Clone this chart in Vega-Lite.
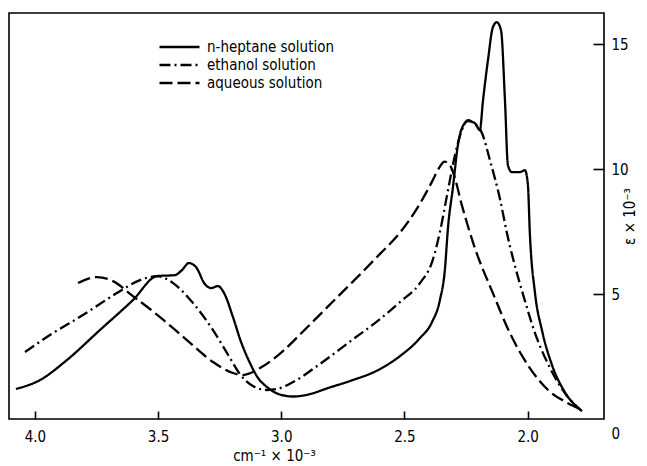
{
  "$schema": "https://vega.github.io/schema/vega-lite/v6.json",
  "autosize": "none",
  "width": 595,
  "height": 406,
  "padding": {"left": 9, "top": 13, "right": 43, "bottom": 47},
  "background": "white",
  "config": {
    "view": {"stroke": "black", "strokeWidth": 1.6},
    "font": "DejaVu Sans Condensed"
  },
  "data": {
    "values": [
      {"series": "n-heptane solution", "v": 4.077, "eps": 1.20},
      {"series": "n-heptane solution", "v": 3.979, "eps": 1.56},
      {"series": "n-heptane solution", "v": 3.870, "eps": 2.36},
      {"series": "n-heptane solution", "v": 3.736, "eps": 3.56},
      {"series": "n-heptane solution", "v": 3.602, "eps": 4.76},
      {"series": "n-heptane solution", "v": 3.504, "eps": 5.72},
      {"series": "n-heptane solution", "v": 3.431, "eps": 5.76},
      {"series": "n-heptane solution", "v": 3.403, "eps": 5.96},
      {"series": "n-heptane solution", "v": 3.375, "eps": 6.24},
      {"series": "n-heptane solution", "v": 3.346, "eps": 6.08},
      {"series": "n-heptane solution", "v": 3.310, "eps": 5.40},
      {"series": "n-heptane solution", "v": 3.285, "eps": 5.24},
      {"series": "n-heptane solution", "v": 3.257, "eps": 5.32},
      {"series": "n-heptane solution", "v": 3.232, "eps": 5.04},
      {"series": "n-heptane solution", "v": 3.196, "eps": 4.08},
      {"series": "n-heptane solution", "v": 3.163, "eps": 3.08},
      {"series": "n-heptane solution", "v": 3.127, "eps": 2.24},
      {"series": "n-heptane solution", "v": 3.094, "eps": 1.64},
      {"series": "n-heptane solution", "v": 3.058, "eps": 1.28},
      {"series": "n-heptane solution", "v": 3.005, "eps": 0.98},
      {"series": "n-heptane solution", "v": 2.950, "eps": 0.90},
      {"series": "n-heptane solution", "v": 2.890, "eps": 0.98},
      {"series": "n-heptane solution", "v": 2.810, "eps": 1.24},
      {"series": "n-heptane solution", "v": 2.721, "eps": 1.52},
      {"series": "n-heptane solution", "v": 2.599, "eps": 2.00},
      {"series": "n-heptane solution", "v": 2.518, "eps": 2.52},
      {"series": "n-heptane solution", "v": 2.437, "eps": 3.24},
      {"series": "n-heptane solution", "v": 2.388, "eps": 3.88},
      {"series": "n-heptane solution", "v": 2.356, "eps": 4.76},
      {"series": "n-heptane solution", "v": 2.336, "eps": 5.96},
      {"series": "n-heptane solution", "v": 2.323, "eps": 7.68},
      {"series": "n-heptane solution", "v": 2.303, "eps": 9.28},
      {"series": "n-heptane solution", "v": 2.283, "eps": 10.96},
      {"series": "n-heptane solution", "v": 2.263, "eps": 11.72},
      {"series": "n-heptane solution", "v": 2.242, "eps": 11.92},
      {"series": "n-heptane solution", "v": 2.214, "eps": 11.84},
      {"series": "n-heptane solution", "v": 2.194, "eps": 11.56},
      {"series": "n-heptane solution", "v": 2.181, "eps": 12.76},
      {"series": "n-heptane solution", "v": 2.161, "eps": 14.36},
      {"series": "n-heptane solution", "v": 2.141, "eps": 15.68},
      {"series": "n-heptane solution", "v": 2.125, "eps": 15.88},
      {"series": "n-heptane solution", "v": 2.108, "eps": 15.56},
      {"series": "n-heptane solution", "v": 2.092, "eps": 12.76},
      {"series": "n-heptane solution", "v": 2.080, "eps": 10.16},
      {"series": "n-heptane solution", "v": 2.064, "eps": 9.88},
      {"series": "n-heptane solution", "v": 2.031, "eps": 9.88},
      {"series": "n-heptane solution", "v": 2.011, "eps": 9.96},
      {"series": "n-heptane solution", "v": 1.999, "eps": 9.40},
      {"series": "n-heptane solution", "v": 1.991, "eps": 7.44},
      {"series": "n-heptane solution", "v": 1.970, "eps": 5.04},
      {"series": "n-heptane solution", "v": 1.942, "eps": 3.56},
      {"series": "n-heptane solution", "v": 1.901, "eps": 2.16},
      {"series": "n-heptane solution", "v": 1.849, "eps": 1.08},
      {"series": "n-heptane solution", "v": 1.780, "eps": 0.32},

      {"series": "ethanol solution", "v": 4.040, "eps": 2.68},
      {"series": "ethanol solution", "v": 3.939, "eps": 3.36},
      {"series": "ethanol solution", "v": 3.805, "eps": 4.16},
      {"series": "ethanol solution", "v": 3.667, "eps": 5.04},
      {"series": "ethanol solution", "v": 3.573, "eps": 5.56},
      {"series": "ethanol solution", "v": 3.504, "eps": 5.72},
      {"series": "ethanol solution", "v": 3.439, "eps": 5.44},
      {"series": "ethanol solution", "v": 3.358, "eps": 4.64},
      {"series": "ethanol solution", "v": 3.277, "eps": 3.56},
      {"series": "ethanol solution", "v": 3.208, "eps": 2.44},
      {"series": "ethanol solution", "v": 3.168, "eps": 1.80},
      {"series": "ethanol solution", "v": 3.115, "eps": 1.32},
      {"series": "ethanol solution", "v": 3.058, "eps": 1.16},
      {"series": "ethanol solution", "v": 3.017, "eps": 1.20},
      {"series": "ethanol solution", "v": 2.952, "eps": 1.48},
      {"series": "ethanol solution", "v": 2.843, "eps": 2.20},
      {"series": "ethanol solution", "v": 2.721, "eps": 3.10},
      {"series": "ethanol solution", "v": 2.599, "eps": 4.00},
      {"series": "ethanol solution", "v": 2.518, "eps": 4.68},
      {"series": "ethanol solution", "v": 2.437, "eps": 5.44},
      {"series": "ethanol solution", "v": 2.388, "eps": 6.28},
      {"series": "ethanol solution", "v": 2.356, "eps": 7.48},
      {"series": "ethanol solution", "v": 2.327, "eps": 8.96},
      {"series": "ethanol solution", "v": 2.295, "eps": 10.56},
      {"series": "ethanol solution", "v": 2.267, "eps": 11.56},
      {"series": "ethanol solution", "v": 2.242, "eps": 11.96},
      {"series": "ethanol solution", "v": 2.214, "eps": 11.80},
      {"series": "ethanol solution", "v": 2.185, "eps": 11.44},
      {"series": "ethanol solution", "v": 2.153, "eps": 10.36},
      {"series": "ethanol solution", "v": 2.112, "eps": 8.80},
      {"series": "ethanol solution", "v": 2.084, "eps": 7.44},
      {"series": "ethanol solution", "v": 2.039, "eps": 5.68},
      {"series": "ethanol solution", "v": 2.019, "eps": 5.00},
      {"series": "ethanol solution", "v": 1.970, "eps": 3.44},
      {"series": "ethanol solution", "v": 1.909, "eps": 2.04},
      {"series": "ethanol solution", "v": 1.849, "eps": 1.04},
      {"series": "ethanol solution", "v": 1.780, "eps": 0.32},

      {"series": "aqueous solution", "v": 3.825, "eps": 5.44},
      {"series": "aqueous solution", "v": 3.748, "eps": 5.68},
      {"series": "aqueous solution", "v": 3.683, "eps": 5.52},
      {"series": "aqueous solution", "v": 3.602, "eps": 4.92},
      {"series": "aqueous solution", "v": 3.492, "eps": 4.08},
      {"series": "aqueous solution", "v": 3.383, "eps": 3.16},
      {"series": "aqueous solution", "v": 3.277, "eps": 2.28},
      {"series": "aqueous solution", "v": 3.196, "eps": 1.84},
      {"series": "aqueous solution", "v": 3.155, "eps": 1.76},
      {"series": "aqueous solution", "v": 3.086, "eps": 2.04},
      {"series": "aqueous solution", "v": 2.993, "eps": 2.72},
      {"series": "aqueous solution", "v": 2.920, "eps": 3.42},
      {"series": "aqueous solution", "v": 2.843, "eps": 4.18},
      {"series": "aqueous solution", "v": 2.760, "eps": 5.00},
      {"series": "aqueous solution", "v": 2.681, "eps": 5.78},
      {"series": "aqueous solution", "v": 2.600, "eps": 6.60},
      {"series": "aqueous solution", "v": 2.518, "eps": 7.46},
      {"series": "aqueous solution", "v": 2.437, "eps": 8.62},
      {"series": "aqueous solution", "v": 2.388, "eps": 9.50},
      {"series": "aqueous solution", "v": 2.356, "eps": 10.10},
      {"series": "aqueous solution", "v": 2.338, "eps": 10.30},
      {"series": "aqueous solution", "v": 2.320, "eps": 10.22},
      {"series": "aqueous solution", "v": 2.300, "eps": 9.80},
      {"series": "aqueous solution", "v": 2.267, "eps": 8.56},
      {"series": "aqueous solution", "v": 2.214, "eps": 6.84},
      {"series": "aqueous solution", "v": 2.141, "eps": 5.04},
      {"series": "aqueous solution", "v": 2.072, "eps": 3.44},
      {"series": "aqueous solution", "v": 1.991, "eps": 2.04},
      {"series": "aqueous solution", "v": 1.917, "eps": 1.16},
      {"series": "aqueous solution", "v": 1.853, "eps": 0.72},
      {"series": "aqueous solution", "v": 1.788, "eps": 0.40}
    ]
  },
  "mark": {"type": "line", "interpolate": "monotone", "stroke": "black", "strokeWidth": 2.3},
  "encoding": {
    "x": {
      "field": "v", "type": "quantitative",
      "scale": {"domain": [4.105, 1.69], "nice": false, "zero": false},
      "axis": {
        "values": [4.0, 3.5, 3.0, 2.5, 2.0], "format": ".1f",
        "domain": false, "grid": false,
        "tickSize": -8, "tickColor": "black", "tickWidth": 1.6,
        "labelPadding": 18, "labelFontSize": 15, "labelColor": "black",
        "labelFont": "DejaVu Sans Condensed",
        "title": "cm⁻¹ × 10⁻³", "titleFont": "DejaVu Sans Condensed", "titleFontWeight": "normal",
        "titleFontSize": 15, "titleColor": "black",
        "titleX": 265, "titleY": 36, "titleAnchor": null, "titleAlign": "center", "titleBaseline": "middle"
      }
    },
    "y": {
      "field": "eps", "type": "quantitative",
      "scale": {"domain": [0, 16.25], "nice": false},
      "axis": {
        "orient": "right",
        "values": [0, 5, 10, 15],
        "domain": false, "grid": false,
        "tickSize": -11, "tickColor": "black", "tickWidth": 1.6,
        "tickOpacity": {"condition": {"test": "datum.value == 0", "value": 0}, "value": 1},
        "labelPadding": 18, "labelFontSize": 15, "labelColor": "black",
        "labelFont": "DejaVu Sans Condensed",
        "labelOffset": {"condition": {"test": "datum.value == 0", "value": 14}, "value": 0},
        "title": "ε × 10⁻³", "titleFont": "DejaVu Sans Condensed", "titleFontWeight": "normal",
        "titleFontSize": 15, "titleColor": "black", "titleAngle": 270, "titlePadding": 9
      }
    },
    "strokeDash": {
      "field": "series", "type": "nominal",
      "scale": {
        "domain": ["n-heptane solution", "ethanol solution", "aqueous solution"],
        "range": [[1, 0], [11, 4, 2, 4], [13, 5]]
      },
      "legend": {
        "title": null, "orient": "none", "legendX": 149, "legendY": 25,
        "symbolType": "stroke", "symbolSize": 1600, "symbolStrokeWidth": 2.3,
        "symbolStrokeColor": "black", "labelFontSize": 15, "labelColor": "black",
        "labelFont": "DejaVu Sans Condensed", "rowPadding": 0, "clipHeight": 18, "labelOffset": 6
      }
    }
  }
}
